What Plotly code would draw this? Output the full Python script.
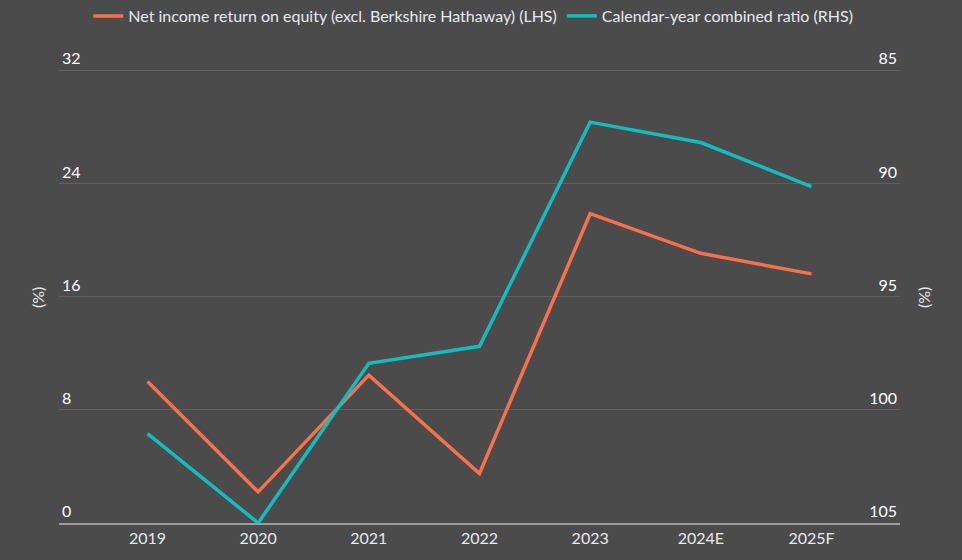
import plotly.graph_objects as go

years = ["2019", "2020", "2021", "2022", "2023", "2024E", "2025F"]
roe = [10.0, 2.2, 10.45, 3.5, 21.85, 19.05, 17.6]          # LHS, %
combined_ratio = [101.05, 105.0, 97.95, 97.2, 87.3, 88.2, 90.15]  # RHS, %

bg = "#4b4b4b"
text_col = "#e6e9ec"
orange = "#f7714d"
teal = "#13bdbf"

W, H = 962, 560
ML, MR, MT, MB = 59, 62, 48, 37

# headroom above the top gridline so the "inside top" labels of 32 / 85 aren't clipped
pad_l = 22 / (452.4 / 32)
pad_r = 22 / (452.4 / 20)

fig = go.Figure()
fig.add_trace(go.Scatter(
    x=years, y=roe, mode="lines",
    name="Net income return on equity (excl. Berkshire Hathaway) (LHS)",
    line=dict(color=orange, width=3.5),
))
fig.add_trace(go.Scatter(
    x=years, y=combined_ratio, mode="lines", yaxis="y2",
    name="Calendar-year combined ratio (RHS)",
    line=dict(color=teal, width=3.5),
))

fig.update_layout(
    width=W, height=H,
    margin=dict(l=ML, r=MR, t=MT, b=MB, autoexpand=False),
    paper_bgcolor=bg, plot_bgcolor=bg,
    font=dict(family="Lato", size=16, color=text_col),
    showlegend=True,
    legend=dict(
        orientation="h", x=0.492, xanchor="center", xref="container",
        y=1 - 16 / H, yanchor="middle", yref="container",
        itemwidth=30, font=dict(size=16, color=text_col),
        bgcolor="rgba(0,0,0,0)",
    ),
    xaxis=dict(
        type="category", range=[-0.8, 6.8],
        showgrid=False, zeroline=False,
        showline=True, linecolor="#9c9c9c", linewidth=2,
        ticks="", tickfont=dict(size=16, color=text_col),
        automargin=False,
    ),
    yaxis=dict(
        range=[0, 32 + pad_l], tick0=0, dtick=8,
        ticklabelposition="inside top",
        gridcolor="#606060", gridwidth=1,
        zeroline=False, showline=False, automargin=False,
    ),
    yaxis2=dict(
        overlaying="y", side="right",
        range=[105, 85 - pad_r], tick0=85, dtick=5,
        ticklabelposition="inside top",
        showgrid=False, zeroline=False, showline=False, automargin=False,
    ),
)

# axis titles placed by hand (paper coords of the plot area)
for xpos in (37, 923):
    fig.add_annotation(
        text="(%)", x=(xpos - ML) / (W - ML - MR), y=(H - MB - 298) / (H - MT - MB),
        xref="paper", yref="paper", xanchor="center", yanchor="middle",
        showarrow=False, textangle=-90, font=dict(size=16, color=text_col),
    )

fig.write_html("out.html", config={"displayModeBar": False},
               post_script="document.body.style.margin='0';")
